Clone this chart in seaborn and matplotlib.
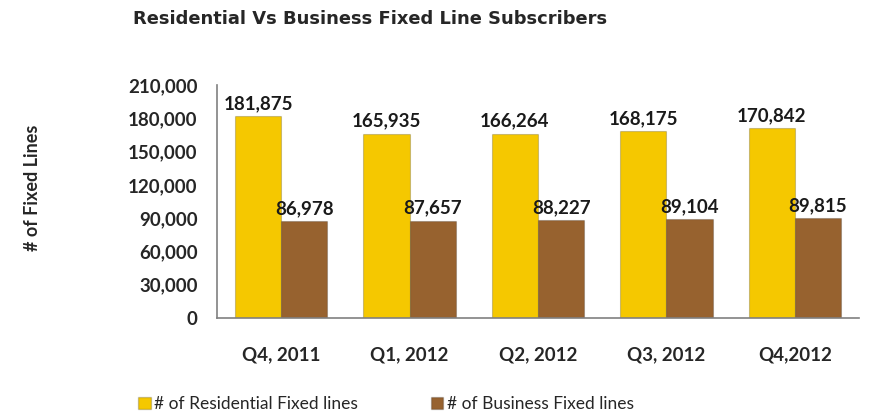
import numpy as np
import pandas as pd
import seaborn as sns
import matplotlib.pyplot as plt

quarters = ["Q4, 2011", "Q1, 2012", "Q2, 2012", "Q3, 2012", "Q4,2012"]
residential = [181875, 165935, 166264, 168175, 170842]
business = [86978, 87657, 88227, 89104, 89815]
series_names = ["# of Residential Fixed lines", "# of Business Fixed lines"]
colors = ["#F5C800", "#97622F"]

df = pd.DataFrame({
    "quarter": quarters * 2,
    "value": residential + business,
    "series": [series_names[0]] * 5 + [series_names[1]] * 5,
})

sns.set_style("white")
plt.rcParams['font.family'] = ['Lato', 'DejaVu Sans']

fig = plt.figure(figsize=(8.73, 4.15), dpi=100)
ax = fig.add_axes([217/873, 1 - 318/415, (859-217)/873, (318-85)/415])

sns.barplot(data=df, x="quarter", y="value", hue="series", palette=colors,
            width=0.72, ax=ax, legend=False, saturation=1)

for bar in ax.patches:
    bar.set_edgecolor("#00000030")
    bar.set_linewidth(0.8)

for cont in ax.containers:
    ax.bar_label(cont, labels=[f"{int(v.get_height()):,}" for v in cont],
                 padding=3, fontsize=13.5, fontweight="bold", color="#1a1a1a")

ax.set_ylim(0, 210000)
ax.set_xlim(-0.5, 4.5)
ax.set_yticks(np.arange(0, 210001, 30000))
ax.set_yticklabels([f"{v:,}" for v in range(0, 210001, 30000)], fontsize=13.5, fontweight="bold")
ax.set_xticklabels(quarters, fontsize=13.5, fontweight="bold")
ax.tick_params(axis="x", length=0, pad=20)
ax.tick_params(axis="y", length=0, pad=14)
ax.set_xlabel("")
ax.set_ylabel("")
sns.despine(ax=ax)
for s in ["left", "bottom"]:
    ax.spines[s].set_color("#808080")
    ax.spines[s].set_linewidth(1.2)

fig.text(370/873, 1 - 19/415, "Residential Vs Business Fixed Line Subscribers",
         ha="center", va="center", fontsize=12.9, fontweight="bold",
         family="DejaVu Sans")
fig.text(32/873, 1 - 188/415, "# of Fixed Lines", rotation=90,
         ha="center", va="center", fontsize=13, fontweight="bold")

handles = [plt.Rectangle((0, 0), 1, 1, facecolor=c, edgecolor="#00000030") for c in colors]
fig.legend(handles, series_names, loc="center", bbox_to_anchor=(386/873, 1 - 404/415),
           ncol=2, frameon=False, fontsize=12.5, handlelength=0.7, handleheight=0.7,
           handletextpad=0.2, columnspacing=4.2)

fig.savefig("out.png", dpi=100)
